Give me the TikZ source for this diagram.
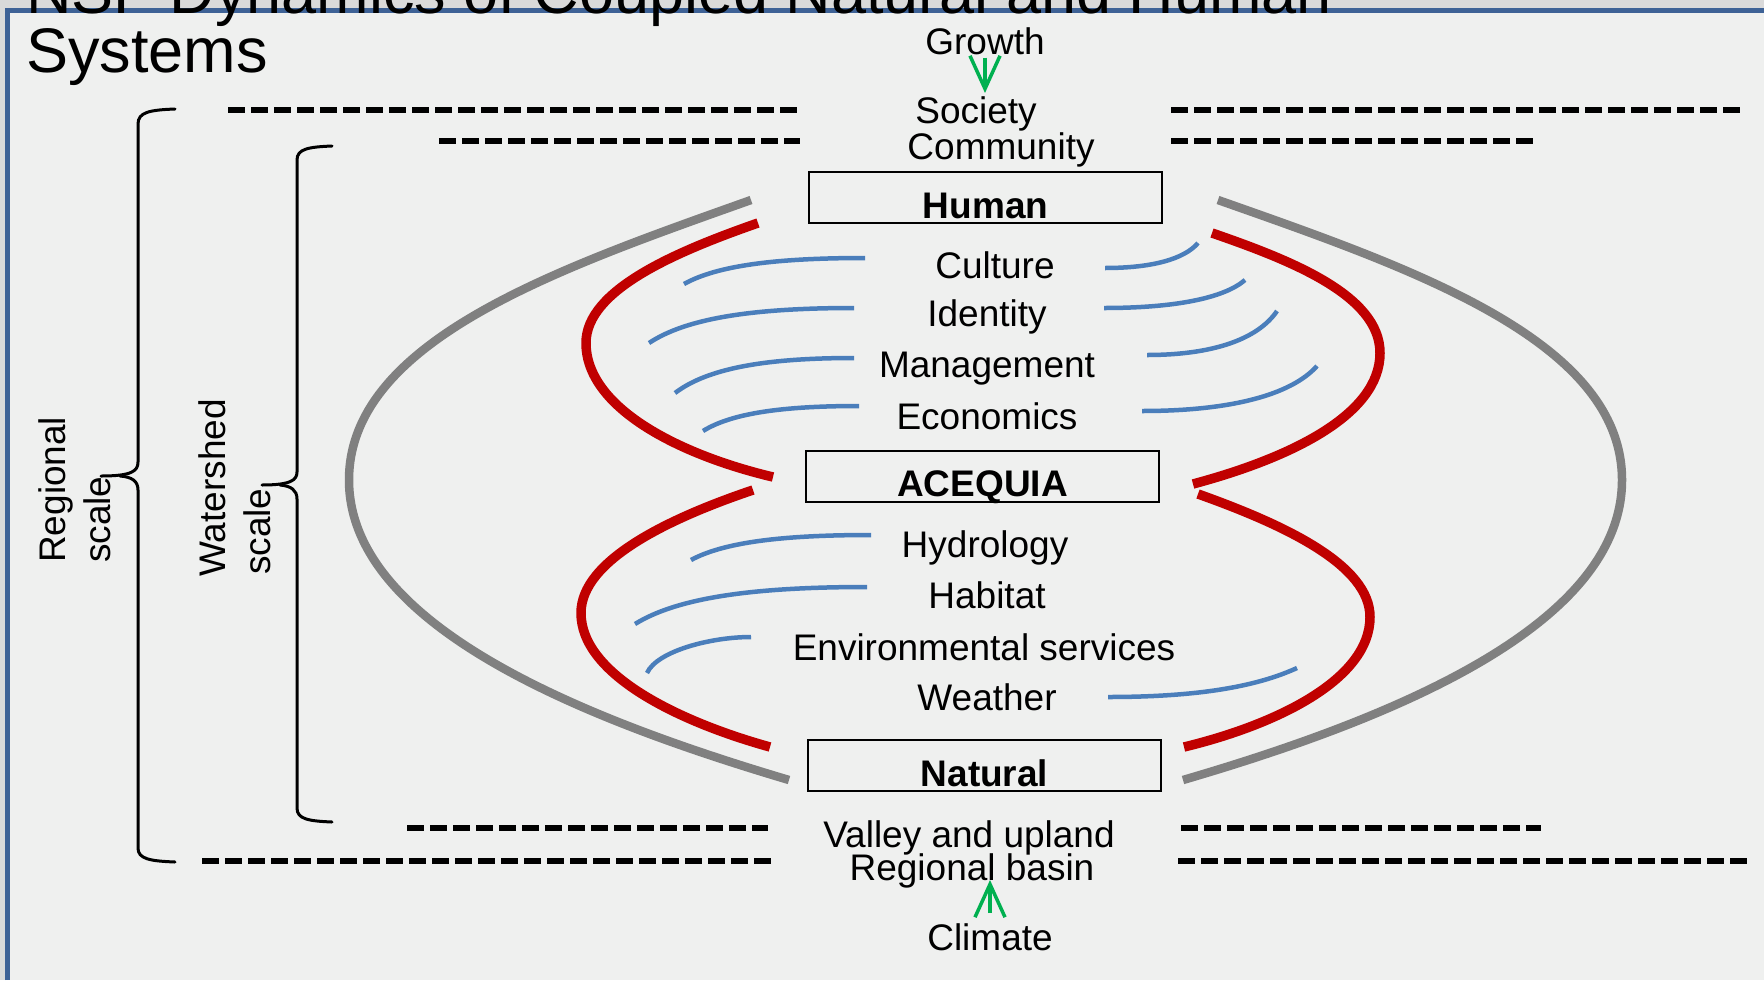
\documentclass[tikz,border=0pt]{standalone}
\usepackage{fontspec}
\setmainfont{Liberation Sans}
\usetikzlibrary{arrows.meta}
\definecolor{bgc}{RGB}{239,240,239}
\definecolor{topgray}{RGB}{218,218,218}
\definecolor{frameblue}{RGB}{62,98,150}
\definecolor{redc}{RGB}{192,0,0}
\definecolor{grayc}{RGB}{128,128,128}
\definecolor{bluec}{RGB}{74,126,187}
\definecolor{greenc}{RGB}{0,176,80}
\tikzset{
  lbl/.style={font=\fontsize{37}{44}\selectfont, inner sep=0pt, anchor=base},
  rlbl/.style={font=\fontsize{37}{44}\selectfont, inner sep=0pt, rotate=90, anchor=base west},
  titlelbl/.style={font=\fontsize{63}{60}\selectfont, inner sep=0pt, anchor=base west},
  boxnode/.style={draw=black, line width=1.8pt, minimum width=353pt, minimum height=51pt,
    inner sep=0pt, font=\fontsize{37}{44}\selectfont\bfseries, text depth=0pt},
  dashline/.style={line width=5.5pt, dash pattern=on 16.5pt off 6.5pt},
  bracepath/.style={line width=3pt, line cap=round},
  grayarc/.style={grayc, line width=8.5pt},
  redarc/.style={redc, line width=9.5pt},
  bluearc/.style={bluec, line width=4.5pt},
  grarrow/.style={greenc, line width=3.5pt, -{Straight Barb[length=33pt,width=30pt]}},
}
\begin{document}
\begin{tikzpicture}[x=1pt,y=-1pt]
\useasboundingbox (0,0) rectangle (1764,980);
\clip (0,0) rectangle (1764,980);
% background and frame
\fill[bgc] (0,0) rectangle (1764,980);
\fill[topgray] (0,0) rectangle (1764,8);
\fill[topgray] (0,0) rectangle (5,980);
\draw[frameblue, line width=5pt] (7.5,980) -- (7.5,10.5) -- (1764,10.5);

% title
\node[titlelbl] (title1) at (26,13) {NSF Dynamics of Coupled Natural and Human};
\node[titlelbl] (title2) at (26,72) {Systems};

% dashed scale lines
\draw[dashline] (228,110) -- (797,110);
\draw[dashline] (1171,110) -- (1741,110);
\draw[dashline] (439,141) -- (800,141);
\draw[dashline] (1171,141) -- (1533,141);
\draw[dashline] (407,828) -- (768,828);
\draw[dashline] (1181,828) -- (1541,828);
\draw[dashline] (202,861) -- (772,861);
\draw[dashline] (1178,861) -- (1750,861);

% braces
\draw[bracepath] (175,109) .. controls (150,110) and (138,112) .. (138,124) -- (138,462)
  .. controls (138,471) and (132,476) .. (101,476);
\draw[bracepath] (120,476) .. controls (132,477) and (138,481) .. (138,490) -- (138,848)
  .. controls (138,859) and (150,861) .. (175,862);
\draw[bracepath] (332,146) .. controls (308,147) and (297,149) .. (297,160) -- (297,472)
  .. controls (297,480) and (291,485) .. (262,485);
\draw[bracepath] (280,485) .. controls (291,486) and (297,490) .. (297,499) -- (297,808)
  .. controls (297,819) and (308,821) .. (332,822);

% rotated scale labels
\node[rlbl] (reg1) at (65,563) {Regional};
\node[rlbl] (reg2) at (110,563) {scale};
\node[rlbl] (wat1) at (225,577) {Watershed};
\node[rlbl] (wat2) at (270,575) {scale};

% gray outer arcs
\draw[grayarc] (751,200) .. controls (560,268) and (349,340) .. (349,480)
  .. controls (349,625) and (580,718) .. (789,780);
\draw[grayarc] (1218,200) .. controls (1411,268) and (1622,340) .. (1622,480)
  .. controls (1622,625) and (1395,718) .. (1183,780);

% red arcs
\draw[redarc] (758,223) .. controls (675,252) and (586,290) .. (586,343)
  .. controls (586,408) and (680,455) .. (773,477);
\draw[redarc] (1212,233) .. controls (1290,260) and (1380,295) .. (1380,353)
  .. controls (1380,415) and (1290,458) .. (1193,484);
\draw[redarc] (753,490) .. controls (670,518) and (581,560) .. (581,613)
  .. controls (581,675) and (680,722) .. (770,747);
\draw[redarc] (1198,494) .. controls (1285,525) and (1370,565) .. (1370,617)
  .. controls (1370,680) and (1275,725) .. (1184,747);

% blue arcs, left side
\draw[bluearc] (865,258) .. controls (774.5,258) and (716.6,265.8) .. (684,284);
\draw[bluearc] (854,308) .. controls (751.5,308) and (685.9,318.5) .. (649,343);
\draw[bluearc] (854,358) .. controls (764.5,358) and (707.2,368.5) .. (675,393);
\draw[bluearc] (859,406) .. controls (781,406) and (731.1,413.5) .. (703,431);
\draw[bluearc] (871,535) .. controls (781,535) and (723.4,542.5) .. (691,560);
\draw[bluearc] (867,587) .. controls (751,587) and (676.8,598.1) .. (635,624);
\draw[bluearc] (751,637) .. controls (711,637) and (657,651) .. (647,673);
% blue arcs, right side
\draw[bluearc] (1105,268) .. controls (1151.5,268) and (1184,259.3) .. (1198,243);
\draw[bluearc] (1104,308) .. controls (1174.5,308) and (1224,298.2) .. (1245,280);
\draw[bluearc] (1147,355) .. controls (1212,355) and (1257.5,339.6) .. (1277,311);
\draw[bluearc] (1142,411) .. controls (1229.5,411) and (1290.8,395.3) .. (1317,366);
\draw[bluearc] (1108,697) .. controls (1202.5,697) and (1259,685.4) .. (1297,668);

% boxes
\node[boxnode, text height=41pt] (human) at (985.5,197.5) {Human};
\node[boxnode, text height=39pt] (acequia) at (982.5,476.5) {ACEQUIA};
\node[boxnode, text height=41pt] (natural) at (984.5,765.5) {Natural};

% labels
\node[lbl] (growth) at (985,54) {Growth};
\node[lbl] (society) at (976,123) {Society};
\node[lbl] (community) at (1001,159) {Community};
\node[lbl] (culture) at (995,278) {Culture};
\node[lbl] (identity) at (987,326) {Identity};
\node[lbl] (management) at (987,377) {Management};
\node[lbl] (economics) at (987,429) {Economics};
\node[lbl] (hydrology) at (985,557) {Hydrology};
\node[lbl] (habitat) at (987,608) {Habitat};
\node[lbl] (envserv) at (984,660) {Environmental services};
\node[lbl] (weather) at (987,710) {Weather};
\node[lbl] (valley) at (969,847) {Valley and upland};
\node[lbl] (basin) at (972,880) {Regional basin};
\node[lbl] (climate) at (990,950) {Climate};

% green arrows
\draw[grarrow, shorten <=3pt, shorten >=3pt] (growth.south) -- (growth.south |- society.north);
\draw[grarrow, shorten <=10pt] (climate.north) -- (climate.north |- basin.base);
\end{tikzpicture}
\end{document}
